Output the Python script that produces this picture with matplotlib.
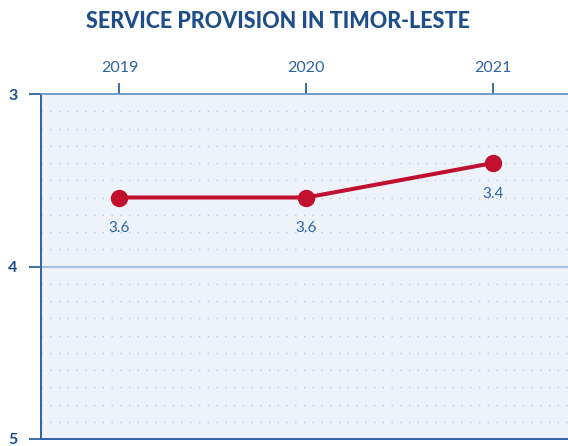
import matplotlib
matplotlib.use("Agg")
import matplotlib.pyplot as plt
from matplotlib.ticker import MultipleLocator

years = [2019, 2020, 2021]
scores = [3.6, 3.6, 3.4]
score_labels = ["3.6", "3.6", "3.4"]
y_ticks = [3, 4, 5]

NAVY = "#1d4e89"
BLUE = "#2b64a3"
RED = "#c0102e"
PANEL = "#eef3fa"

plt.rcParams["font.family"] = ["Lato", "DejaVu Sans"]

fig = plt.figure(figsize=(5.68, 4.46), dpi=100)
ax = fig.add_axes([41 / 568, 1 - 439 / 446, 1 - 41 / 568, 345 / 446])
ax.set_facecolor(PANEL)

ax.plot(years, scores, color=RED, lw=2.9, marker="o", ms=11.5, zorder=3)
for x, y, t in zip(years, scores, score_labels):
    ax.annotate(t, (x, y), xytext=(0, -22), textcoords="offset points",
                ha="center", va="center", fontsize=11, color=BLUE)

ax.set_xlim(2018.58, 2021.40)
ax.set_ylim(5, 3)

# dotted minor rows every 0.1, solid line at 4
ax.yaxis.set_minor_locator(MultipleLocator(0.1))
ax.grid(which="minor", axis="y", color="#b9c7da", lw=0.9, ls=(0, (1, 6)))
ax.axhline(4, color="#a9c3de", lw=1.6, zorder=1)

ax.xaxis.tick_top()
ax.set_xticks(years)
ax.set_xticklabels([str(y) for y in years])
ax.tick_params(axis="x", which="major", length=8, width=1.3, color=BLUE,
               labelsize=11.5, labelcolor=BLUE, pad=6)
ax.set_yticks(y_ticks)
ax.set_yticklabels([str(y) for y in y_ticks], fontweight="bold")
ax.tick_params(axis="y", which="major", length=9, width=1.3, color=BLUE,
               labelsize=11.5, labelcolor=NAVY, pad=8)
ax.tick_params(axis="y", which="minor", length=0)

for side in ["left", "bottom"]:
    ax.spines[side].set_color(BLUE)
    ax.spines[side].set_linewidth(1.4)
ax.spines["top"].set_color("#5d8cc0")
ax.spines["top"].set_linewidth(1.2)
ax.spines["right"].set_visible(False)

fig.text(0.5 - 6 / 568, 1 - 22 / 446, "SERVICE PROVISION IN TIMOR-LESTE", ha="center",
         va="center", fontsize=15.5, fontweight=900, color=NAVY)

fig.savefig("out.png", dpi=100)
